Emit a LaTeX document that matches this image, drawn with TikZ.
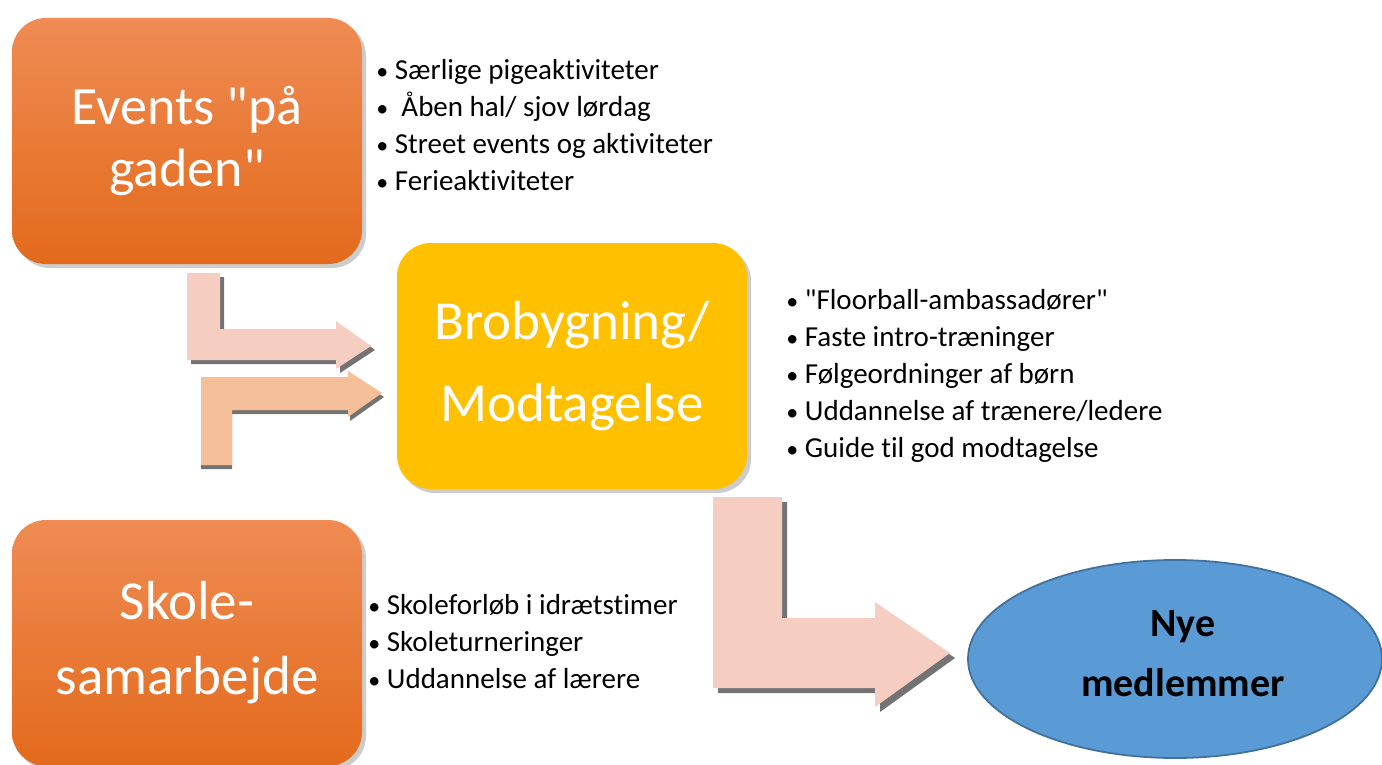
\documentclass[tikz,border=0pt]{standalone}
\usepackage{fontspec}
\setmainfont{Carlito}[Ligatures={TeXOff,NoCommon}]
\usetikzlibrary{shadows,shapes.geometric}
\definecolor{orTop}{HTML}{EF8B53}
\definecolor{orMid}{HTML}{F27E2B}
\definecolor{orBot}{HTML}{E36A1C}
\definecolor{yel}{HTML}{FFC000}
\definecolor{pinkA}{HTML}{F5CDC1}
\definecolor{peachA}{HTML}{F5BF99}
\definecolor{bluF}{HTML}{5B9BD5}
\definecolor{bluB}{HTML}{41719C}
\definecolor{shd}{HTML}{5A5A5A}
\newcommand\mybul{{\fontsize{12pt}{12pt}\selectfont•}}
\begin{document}
\begin{tikzpicture}[x=0.5pt,y=-0.5pt,
  box/.style={rounded corners=17pt, minimum width=175pt, minimum height=123pt,
    align=center, text=white, inner sep=0pt,
    drop shadow={shadow xshift=2pt, shadow yshift=-2pt, opacity=0.4}},
  orbox/.style={box, top color=orTop, middle color=orMid, bottom color=orBot},
  ylbox/.style={box, fill=yel},
  bigtxt/.style={font=\fontsize{27pt}{31pt}\selectfont},
  bigtxtb/.style={font=\fontsize{27.5pt}{41pt}\selectfont},
  bigtxtc/.style={font=\fontsize{27.5pt}{37.5pt}\selectfont},
  listtxt/.style={anchor=north west, inner sep=0pt, align=left,
    font=\fontsize{14.5pt}{18.5pt}\selectfont},
  arrowA/.style={fill=pinkA},
  arrowB/.style={fill=peachA},
  arrowsh/.style={fill=shd, opacity=0.85}
]
\useasboundingbox (0,0) rectangle (1382,765);

% boxes
\node[orbox, bigtxt] (ev) at (187,141) {Events "på\\gaden"};
\node[ylbox, bigtxtb] (bro) at (572,366) {Brobygning/\\Modtagelse};
\node[orbox, bigtxtc] (sk) at (187,643) {Skole-\\samarbejde};

% ellipse
\node[ellipse, fill=bluF, draw=bluB, line width=0.9pt, minimum width=207pt,
  minimum height=99pt, inner sep=0pt] (nye) at (1175,659) {};
\node[align=center, inner sep=0pt,
  font=\fontsize{20pt}{30pt}\selectfont\bfseries] (nyet) at (1183,654) {Nye\\medlemmer};

% arrow 1 (upper)
\path[arrowsh] (191,277) -- (224,277) -- (224,333) -- (340,333) -- (340,325) -- (375,350) -- (340,373) -- (340,364) -- (191,364) -- cycle;
\path[arrowA] (187,273) -- (220,273) -- (220,329) -- (336,329) -- (336,321) -- (371,346) -- (336,369) -- (336,360) -- (187,360) -- cycle;

% arrow 2 (lower)
\path[arrowsh] (201,469) -- (201,381) -- (350,381) -- (350,375) -- (384,397) -- (350,421) -- (350,414) -- (232,414) -- (232,469) -- cycle;
\path[arrowB] (201,465) -- (201,377) -- (348,377) -- (348,371) -- (382,393) -- (348,417) -- (348,410) -- (232,410) -- (232,465) -- cycle;

% arrow 3 (big)
\path[arrowsh] (718,502) -- (787,502) -- (787,623) -- (880,623) -- (880,607) -- (955,658) -- (880,712) -- (880,693) -- (718,693) -- cycle;
\path[arrowA] (713,497) -- (782,497) -- (782,618) -- (875,618) -- (875,602) -- (950,653) -- (875,707) -- (875,688) -- (713,688) -- cycle;

% lists
\node[listtxt] (l1) at (376,59) {\mybul{} Særlige pigeaktiviteter\\
\mybul{}~~Åben hal/ sjov lørdag\\
\mybul{} Street events og aktiviteter\\
\mybul{} Ferieaktiviteter};
\node[listtxt] (l2) at (786,289) {\mybul{} "Floorball-ambassadører"\\
\mybul{} Faste intro-træninger\\
\mybul{} Følgeordninger af børn\\
\mybul{} Uddannelse af trænere/ledere\\
\mybul{} Guide til god modtagelse};
\node[listtxt] (l3) at (368,594) {\mybul{} Skoleforløb i idrætstimer\\
\mybul{} Skoleturneringer\\
\mybul{} Uddannelse af lærere};
\end{tikzpicture}
\end{document}
